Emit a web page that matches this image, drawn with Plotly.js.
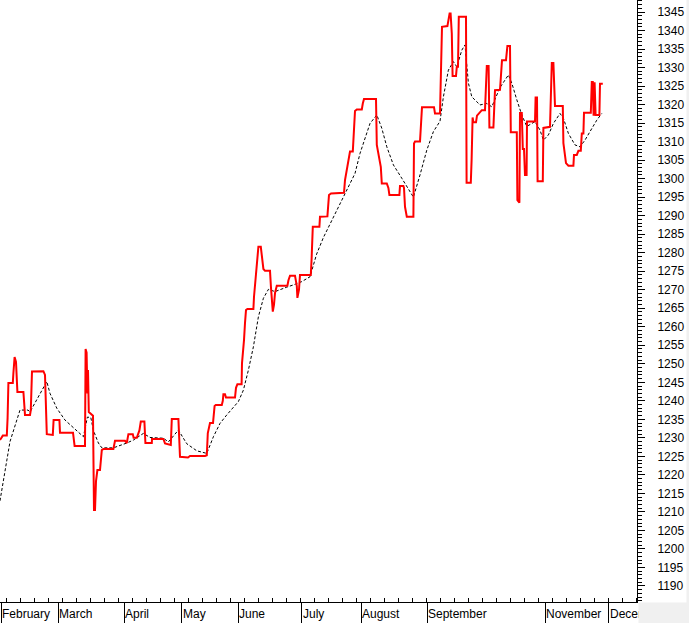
<!DOCTYPE html>
<html>
<head>
<meta charset="utf-8">
<script src="https://cdn.plot.ly/plotly-3.0.1.min.js"></script>
<style>html,body{margin:0;padding:0;background:#fff;}#chart{width:689px;height:623px;}</style>
</head>
<body>
<div id="chart"></div>
<script>
// Month labels and where each month starts (day position on the x axis)
const monthNames = ['February','March','April','May','June','July','August','September','November','December'];
const monthStart = [0.5, 29.2, 62.2, 90.9, 119.2, 150.9, 180.5, 213.7, 272.7, 304.4];

// Price (red line): day position and value
const priceDay = [0,1.4,3.4,3.8,4.2,6.4,6.7,7.3,8,8.7,11.7,12,12.5,15,15.4,16,21.7,22.5,23.4,26.4,26.8,29.7,30,36.5,37.3,42.5,42.8,43.3,43.7,44,44.4,46.5,47,47.5,48,48.7,50,50.9,51.7,56.7,57.5,62.5,63.4,64.2,66.4,66.8,68.4,69.7,70.4,72.2,72.7,75.9,76,81.7,82.5,85.4,85.9,89.2,90,94,95,102.5,103.4,103.9,105,106.5,106.9,107.3,107.9,110.9,111.4,111.7,112.5,113,117.5,118,118.7,120.8,121,121.5,122,122.5,123,123.7,126.7,127,127.5,128,128.7,129.2,130.4,130.9,131.7,132.5,135,135.5,136.4,137,137.5,138.4,143.7,144.2,145,147.5,148.4,148.7,149.5,150,155.4,155.8,156.4,159.7,160,163.7,164.5,165.5,172,172.5,173.4,174.2,175,176.4,176.7,177.5,178.4,180.9,181.4,182,188,188.4,190.4,190.9,193.4,194.2,194.7,199.7,200,201.7,202,202.5,203.4,206.7,207,207.5,210,210.5,211,217,217.5,220,220.5,221,223.7,224.2,224.8,225.3,225.9,226.3,228,228.4,229,229.4,233,233.3,235.4,235.8,236.3,236.7,238,238.5,240.9,242.5,242.9,243.4,244.3,244.7,246.7,247.5,250,250.5,251,253,253.7,255,255.4,258.4,258.7,259.7,260,260.9,261.4,262,262.5,263.3,263.5,267.5,267.8,268.5,268.8,271.4,271.7,275,275.9,276.7,277.5,281.4,281.7,283,284.2,286.7,287,288.4,289.2,290.4,290.9,291.7,292,295.4,295.9,296.4,296.8,297.3,297.8,299.7,300,301.4];
const price = [1229.4,1230.6,1230.6,1235.4,1244.8,1244.8,1247.5,1251.8,1250.5,1242.4,1242.4,1240.2,1236.2,1236.2,1237.5,1247.9,1248,1247,1231,1230.8,1234.8,1234.8,1231.4,1231.4,1227.8,1227.8,1254,1253,1242,1248.3,1237,1236,1210.5,1210.5,1218.3,1221.3,1221.3,1226.7,1227,1227,1229.2,1229.2,1228.6,1231,1231,1230,1230,1232,1234.4,1234.4,1228.6,1228.6,1229.7,1229.7,1228.5,1228.1,1235.1,1235.1,1224.9,1224.7,1225.1,1225.1,1225.3,1231.3,1234,1234,1237.1,1238.6,1238.9,1238.9,1240,1241.8,1241.8,1240.9,1240.9,1243.5,1244.5,1244.5,1250.2,1252.9,1256.4,1261,1264.5,1264.8,1264.8,1268.1,1271.8,1274.9,1278,1281.6,1281.6,1279,1275.6,1275.1,1275.1,1270.5,1264.1,1266,1269.1,1271.1,1271.1,1272.5,1273.8,1273.8,1271,1267.8,1270,1274,1274,1278.3,1287,1287,1289.7,1289.8,1295.6,1296,1296.2,1299.6,1302.3,1305,1307.3,1307.3,1311,1318.3,1318.7,1318.7,1320.3,1321.5,1321.5,1309.1,1303.2,1298.7,1298.7,1297.5,1295.6,1295.6,1298,1298,1297.5,1292.4,1289.7,1289.7,1309.5,1310,1310,1315.8,1319.3,1319.3,1317.6,1317.6,1332.9,1341,1341.2,1342.8,1344.6,1344.6,1339.2,1327.7,1327.7,1330.2,1330.2,1343.7,1343.7,1298.9,1298.9,1305,1316.5,1315.2,1315.2,1317,1318.5,1318.5,1326.6,1330.4,1330.4,1313.8,1313.8,1323.9,1324,1329.3,1332,1332,1335.8,1335.8,1312.5,1312.5,1294.2,1293.5,1317.7,1317.7,1308,1308,1301,1301,1315.4,1315.4,1321.9,1321.9,1299.3,1299.3,1313.7,1314,1331.2,1331.2,1319.6,1319.6,1309.6,1304.2,1303.5,1303.5,1306.4,1306.4,1307.5,1307.5,1312.2,1312.2,1317.8,1317.8,1326.1,1326.1,1317,1326,1317.2,1317.2,1325.6,1325.6];

// Moving average (black dotted line): day position and value
const maDay = [0,2.5,5,10,14,15,23.4,25,28.4,32.5,36.7,40,41.7,43.7,45.4,46.7,49.2,50.9,56.7,63.4,66.7,71.7,75,81.7,84.2,89.2,93.4,98.4,103.4,106.7,110,113.4,119.2,121.7,124.2,126.7,129.2,131.7,134.2,137.5,140,143.4,146.7,150.9,155,158.3,161.7,166.7,171.7,177.5,180,185,188.4,190.9,193.4,196.7,200.9,204.2,206.7,210,213.4,216.7,220,221.7,224.2,226.7,228.4,230.9,232.5,234.2,235.9,240,243.4,245.9,250,254.2,255.9,258.4,260.9,263.4,267.5,270,271.7,274.2,276.7,280,281.7,284.2,287.5,290,292.5,295,298.4,300.9];
const ma = [1213,1221,1229,1237.5,1237.5,1237,1245.2,1242,1238,1234.8,1232.7,1231.3,1230.3,1235.6,1235.5,1232,1228.6,1227.3,1227.3,1228.6,1229.4,1231.2,1230.1,1229.9,1228.9,1232.1,1228.4,1226.5,1225.8,1230.3,1233.9,1236.2,1239.8,1242.9,1248.3,1254.6,1262.7,1267.7,1270.1,1269.5,1270.1,1270.7,1271.3,1272.2,1273.5,1279.6,1284.1,1289.6,1295.1,1301.4,1306.8,1314.9,1317.2,1313.6,1308.6,1303.7,1300.1,1297.4,1295,1301,1307.7,1312.7,1315.5,1322.1,1329.3,1331.6,1330.2,1334.7,1336.1,1325.8,1322.1,1319.9,1320.3,1319.4,1324.6,1328,1325.8,1321.3,1317.2,1314.1,1315.4,1313.1,1310.4,1311.8,1314.9,1317.6,1316.3,1312.2,1309.1,1308.6,1310.4,1312.7,1315.8,1317.6];

const FONT = 'Liberation Sans, Arial, sans-serif';

const traces = [
  {x: maDay, y: ma, type: 'scatter', mode: 'lines',
   line: {color: '#000000', width: 1, dash: '3px,2px'}, hoverinfo: 'skip'},
  {x: priceDay, y: price, type: 'scatter', mode: 'lines',
   line: {color: '#ff0000', width: 2}, hoverinfo: 'skip'}
];

const annotations = monthNames.map((m, i) => ({
  x: monthStart[i], xref: 'x', y: 0, yref: 'paper',
  xanchor: 'left', yanchor: 'top', yshift: -4, xshift: 0,
  text: m, showarrow: false, borderpad: 0,
  font: {family: FONT, size: 12, color: '#000'}
}));
// grey corner box (covers overflowing label like the original)
annotations.push({
  x: 1, xref: 'paper', y: 0, yref: 'paper', xanchor: 'left', yanchor: 'top',
  xshift: 1, text: ' ', showarrow: false, width: 52, height: 21, borderpad: 0,
  bgcolor: '#f0f0f0', font: {size: 12}
});

const layout = {
  width: 689, height: 623,
  margin: {l: 0, r: 52, t: 0, b: 21, pad: 0},
  paper_bgcolor: '#ffffff', plot_bgcolor: '#ffffff',
  showlegend: false, hovermode: false,
  xaxis: {
    range: [0, 318.5], showgrid: false, zeroline: false,
    showline: true, linecolor: '#000', linewidth: 1,
    tickmode: 'array', tickvals: monthStart, showticklabels: false,
    ticks: 'outside', ticklen: 20, tickwidth: 1, tickcolor: '#000',
    minor: {ticks: 'inside', ticklen: 4, tickwidth: 1, tickcolor: '#000', dtick: 7, tick0: 115, showgrid: false}
  },
  yaxis: {
    side: 'right', range: [1185.67, 1348.24], showgrid: false, zeroline: false,
    showline: true, linecolor: '#000', linewidth: 1,
    tickmode: 'linear', tick0: 1190, dtick: 5,
    ticks: 'outside', ticklen: 7, tickwidth: 1, tickcolor: '#000',
    ticklabelstandoff: 10,
    tickfont: {family: FONT, size: 12, color: '#000'},
    minor: {ticks: 'outside', ticklen: 4, tickwidth: 1, tickcolor: '#000', dtick: 1, showgrid: false}
  },
  shapes: [
    {type: 'rect', xref: 'paper', yref: 'paper', x0: 1.0777, x1: 1.09, y0: -0.05, y1: 1,
     fillcolor: '#f0f0f0', line: {width: 0}, layer: 'above'}
  ],
  annotations: annotations
};

Plotly.newPlot('chart', traces, layout, {staticPlot: true, displayModeBar: false});
</script>
</body>
</html>
